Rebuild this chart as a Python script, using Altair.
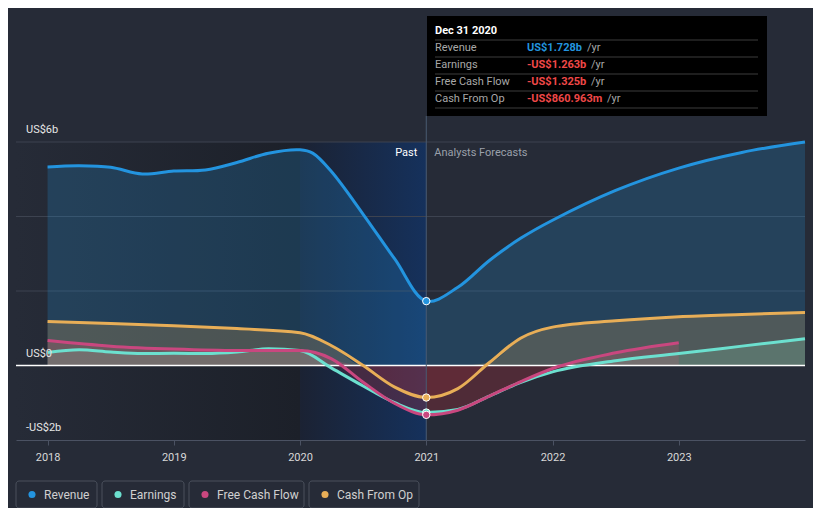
import altair as alt
import pandas as pd

# ---------------- data ----------------
series_names = ["Revenue", "Earnings", "Free Cash Flow", "Cash From Op"]
series_colors = ["#2394df", "#6ce0cf", "#c9477f", "#e8ae57"]

rev_x = [2018.0, 2018.25, 2018.5, 2018.75, 2019.0, 2019.25, 2019.5, 2019.75, 2020.0, 2020.1,
         2020.25, 2020.5, 2020.75, 2021.0, 2021.25, 2021.5, 2021.75, 2022.0, 2022.5, 2023.0,
         2023.5, 2024.0]
rev_v = [5.33, 5.36, 5.32, 5.14, 5.22, 5.25, 5.45, 5.70, 5.79, 5.70,
         5.2, 4.06, 2.86, 1.728, 2.1, 2.82, 3.42, 3.9, 4.7, 5.3,
         5.72, 6.0]

earn_x = [2018.0, 2018.25, 2018.5, 2018.75, 2019.0, 2019.25, 2019.5, 2019.75, 2020.0, 2020.25,
          2020.5, 2020.75, 2021.0, 2021.25, 2021.5, 2021.75, 2022.0, 2022.5, 2023.0, 2023.5, 2024.0]
earn_v = [0.35, 0.42, 0.36, 0.32, 0.33, 0.32, 0.36, 0.45, 0.40, -0.07,
          -0.55, -1.0, -1.263, -1.18, -0.82, -0.45, -0.17, 0.13, 0.32, 0.52, 0.72]

fcf_x = [2018.0, 2018.5, 2019.0, 2019.5, 2020.0, 2020.12, 2020.25, 2020.5, 2020.75, 2021.0,
         2021.25, 2021.5, 2021.75, 2022.0, 2022.5, 2023.0]
fcf_v = [0.67, 0.52, 0.44, 0.40, 0.40, 0.35, 0.18, -0.45, -1.02, -1.325,
         -1.2, -0.82, -0.43, -0.08, 0.34, 0.61]

cfo_x = [2018.0, 2018.5, 2019.0, 2019.5, 2020.0, 2020.25, 2020.5, 2020.75, 2021.0,
         2021.25, 2021.5, 2021.75, 2022.0, 2022.5, 2023.0, 2023.5, 2024.0]
cfo_v = [1.18, 1.13, 1.07, 0.99, 0.88, 0.53, 0.0, -0.58, -0.86,
         -0.62, 0.08, 0.74, 1.03, 1.2, 1.31, 1.37, 1.42]

x_ticks = [2018, 2019, 2020, 2021, 2022, 2023]
grid_vals = [2, 4, 6]
ylabel_vals = [6, 0, -2]
ylabel_text = ["US$6b", "US$0", "-US$2b"]

tooltip_title = "Dec 31 2020"
tooltip_labels = ["Revenue", "Earnings", "Free Cash Flow", "Cash From Op"]
tooltip_values = ["US$1.728b", "-US$1.263b", "-US$1.325b", "-US$860.963m"]
tooltip_value_colors = ["#2394df", "#f04848", "#f04848", "#f04848"]

past_start, now_year = 2020.0, 2021.0

rows = []
for name, xs_, vs_ in [("Revenue", rev_x, rev_v), ("Earnings", earn_x, earn_v),
                       ("Free Cash Flow", fcf_x, fcf_v), ("Cash From Op", cfo_x, cfo_v)]:
    for xv, vv in zip(xs_, vs_):
        rows.append({"series": name, "year": xv, "value": vv,
                     "pos": max(vv, 0.0), "neg": min(vv, 0.0)})
df = pd.DataFrame(rows)

# ---------------- layout / style ----------------
W, H = 789, 298
FONT = "Roboto"
BG = "#262b37"

xscale = alt.Scale(domain=[2017.75, 2024.0], nice=False, zero=False)
yscale = alt.Scale(domain=[-2, 6], nice=False)
cscale = alt.Scale(domain=series_names, range=series_colors)
xaxis = alt.Axis(values=x_ticks, format="d", grid=False, title=None,
                 domainColor="#4b5263", tickColor="#4b5263", tickSize=5,
                 labelColor="#d8d8d8", labelFontSize=11, labelFont=FONT, labelPadding=6)


def X(field):
    return alt.X(field, type="quantitative", scale=xscale, axis=xaxis)


def Y(field):
    return alt.Y(field, type="quantitative", scale=yscale, axis=None, stack=None)


one = pd.DataFrame({"k": [0]})
COLOR = alt.Color("series:N", scale=cscale, legend=None)
is_rev = alt.datum.series == "Revenue"
not_rev = alt.datum.series != "Revenue"

layers = []

# background shading
bg = pd.DataFrame({"a": [2017.75], "b": [past_start]})
layers.append(alt.Chart(bg).mark_rect(
    color=alt.Gradient(gradient="linear", x1=0, x2=1, y1=0, y2=0,
                       stops=[alt.GradientStop(color=BG, offset=0),
                              alt.GradientStop(color="#1c2029", offset=1)])
).encode(x=X("a"), x2="b", y=alt.value(0), y2=alt.value(H)))

past = pd.DataFrame({"a": [past_start], "b": [now_year]})
layers.append(alt.Chart(past).mark_rect(
    color=alt.Gradient(gradient="linear", x1=0, x2=1, y1=0, y2=0,
                       stops=[alt.GradientStop(color="#1b2233", offset=0),
                              alt.GradientStop(color="#15315c", offset=1)])
).encode(x=X("a"), x2="b", y=alt.value(0), y2=alt.value(H)))

# gridlines
layers.append(alt.Chart(pd.DataFrame({"g": grid_vals})).mark_rule(
    color="#3d4350", strokeWidth=1).encode(y=Y("g")))

# areas (positive in series colour, negative in red)
layers.append(alt.Chart(df).transform_filter(is_rev).mark_area(
    interpolate="catmull-rom", opacity=0.22
).encode(x=X("year"), y=Y("pos"), color=COLOR))
layers.append(alt.Chart(df).transform_filter(not_rev).mark_area(
    interpolate="monotone", opacity=0.22
).encode(x=X("year"), y=Y("pos"), color=COLOR, detail="series:N"))
layers.append(alt.Chart(df).transform_filter(not_rev).mark_area(
    interpolate="monotone", opacity=0.14, color="#c8343c"
).encode(x=X("year"), y=Y("neg"), detail="series:N"))

# zero line
layers.append(alt.Chart(one).mark_rule(color="#ffffff", strokeWidth=1.5).encode(
    y=alt.Y(datum=0, type="quantitative", scale=yscale, axis=None)))

# lines
layers.append(alt.Chart(df).transform_filter(is_rev).mark_line(
    interpolate="catmull-rom", strokeWidth=3).encode(
    x=X("year"), y=Y("value"), color=COLOR))
layers.append(alt.Chart(df).transform_filter(not_rev).mark_line(
    interpolate="monotone", strokeWidth=3).encode(
    x=X("year"), y=Y("value"), color=COLOR, detail="series:N"))

# vertical "now" rule
layers.append(alt.Chart(pd.DataFrame({"n": [now_year]})).mark_rule(
    color="#4a5a72", strokeWidth=1).encode(x=X("n"), y=alt.value(-26), y2=alt.value(H)))

# points at now
layers.append(alt.Chart(df).transform_filter(alt.datum.year == now_year).mark_circle(
    size=55, opacity=1, stroke="#ffffff", strokeWidth=1
).encode(x=X("year"), y=Y("value"), color=COLOR))

# Past / Analysts Forecasts
nowdf = pd.DataFrame({"now": [now_year]})
layers.append(alt.Chart(nowdf).mark_text(text="Past", align="right", baseline="middle",
                                          font=FONT, fontSize=11, color="#ffffff", dx=-9).encode(
    x=X("now"), y=alt.value(11)))
layers.append(alt.Chart(nowdf).mark_text(text="Analysts Forecasts", align="left", baseline="middle",
                                          font=FONT, fontSize=11, color="#9aa0aa", dx=8).encode(
    x=X("now"), y=alt.value(11)))

# y labels
layers.append(alt.Chart(pd.DataFrame({"v": ylabel_vals, "t": ylabel_text})).mark_text(
    align="left", baseline="middle", font=FONT, fontSize=11, color="#e6e6e6", dy=-12
).encode(x=alt.value(10), y=Y("v"), text="t:N"))

# tooltip box
layers.append(alt.Chart(one).mark_rect(color="#000000").encode(
    x=alt.value(411), x2=alt.value(751), y=alt.value(-126), y2=alt.value(-26)))
layers.append(alt.Chart(one).mark_text(text=tooltip_title, align="left", baseline="middle",
                                        font=FONT, fontSize=11, fontWeight="bold",
                                        color="#ffffff").encode(
    x=alt.value(419), y=alt.value(-111)))
sep_y = [-102, -85, -68, -51, -34]
for sy in sep_y:
    layers.append(alt.Chart(one).mark_rule(color="#3c3c3c", strokeWidth=1).encode(
        x=alt.value(419), x2=alt.value(742), y=alt.value(sy)))
suffix_x = [571, 575, 575, 591]
for i, (lab, val, col) in enumerate(zip(tooltip_labels, tooltip_values, tooltip_value_colors)):
    ry = -94 + 17 * i
    layers.append(alt.Chart(one).mark_text(text=lab, align="left", baseline="middle",
                                            font=FONT, fontSize=11, color="#a8a8a8").encode(
        x=alt.value(419), y=alt.value(ry)))
    layers.append(alt.Chart(one).mark_text(text=val, align="left", baseline="middle",
                                            font=FONT, fontSize=11, fontWeight="bold",
                                            color=col).encode(
        x=alt.value(511), y=alt.value(ry)))
    layers.append(alt.Chart(one).mark_text(text="/yr", align="left", baseline="middle",
                                            font=FONT, fontSize=11, color="#a8a8a8").encode(
        x=alt.value(suffix_x[i]), y=alt.value(ry)))

# legend
box_left = [0, 86, 173, 293]
box_w = [81, 82, 115, 110]
for i, (name, col) in enumerate(zip(series_names, series_colors)):
    bx = box_left[i]
    layers.append(alt.Chart(one).mark_rect(fillOpacity=0, stroke="#4a505c", strokeWidth=1,
                                            cornerRadius=3).encode(
        x=alt.value(bx), x2=alt.value(bx + box_w[i]), y=alt.value(339), y2=alt.value(366)))
    layers.append(alt.Chart(one).mark_circle(size=50, color=col, opacity=1).encode(
        x=alt.value(bx + 16), y=alt.value(352.5)))
    layers.append(alt.Chart(one).mark_text(text=name, align="left", baseline="middle",
                                            font=FONT, fontSize=12, color="#d0d0d0").encode(
        x=alt.value(bx + 28), y=alt.value(352.5)))

chart = alt.layer(*layers).properties(
    width=W, height=H,
    padding={"left": 8, "top": 134, "right": 8, "bottom": 68},
    background=BG,
    autosize=alt.AutoSizeParams(type="none"),
).configure_view(stroke=None)

chart.save("out.html", embed_options={"renderer": "svg", "actions": False})
